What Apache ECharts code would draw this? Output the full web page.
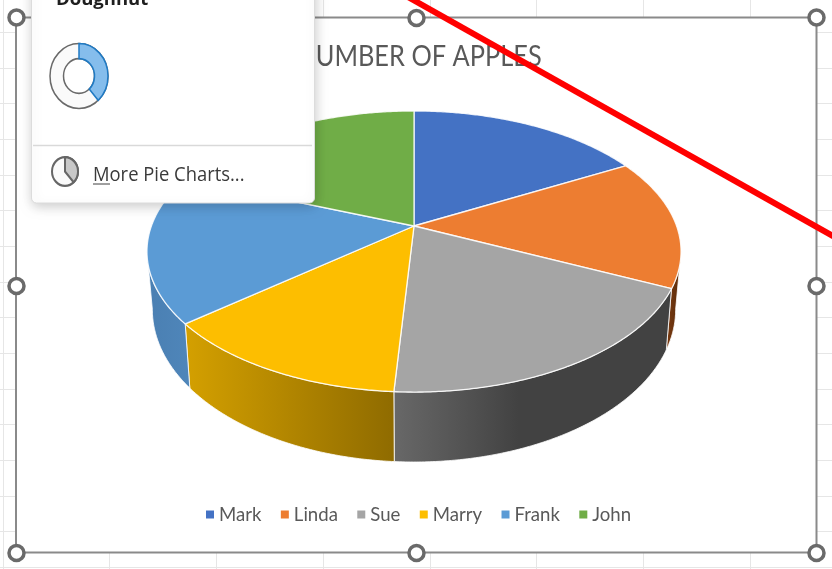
<!DOCTYPE html>
<html><head><meta charset="utf-8">
<style>html,body{margin:0;padding:0;background:#fff}#c{width:832px;height:569px}</style>
<script src="https://cdn.jsdelivr.net/npm/echarts@6/dist/echarts.min.js"></script>
</head><body><div id="c"></div>
<script>
const chartTitle = 'NUMBER OF APPLES';
const names = ['Mark','Linda','Sue','Marry','Frank','John'];
const apples = [17,15,19,13,17,19];
const topColors = ['#4472c4','#ed7d31','#a5a5a5','#fdbe00','#5b9bd5','#70ad47'];
const wallColors = [
  ['#2f5597','#2f5597'],['#7a3a10','#5a2c0c'],['#686868','#424242'],
  ['#d4a000','#8f6b00'],['#4a7fb2','#4f86ba'],['#4a7a30','#4a7a30']
];

const total = apples.reduce((a,b)=>a+b,0);
const D2R = Math.PI/180;
const K = 0.1815;
const TOP = {cx:414, cy:226, a:262.6, b:135.9};
const BOT = {cx:414, cy:281.8, a:257.3, b:147.5};
const FRONT = [100.4, 259.6];
function rim(r, deg){
  const s=Math.sin(deg*D2R), c=Math.cos(deg*D2R), w=1+K*c;
  return [r.cx+r.a*s/w, r.cy-r.b*c/w];
}
function arc(r, from, to){
  const pts=[], n=Math.max(2,Math.ceil((to-from)*2));
  for(let i=0;i<=n;i++) pts.push(rim(r, from+(to-from)*i/n));
  return pts;
}
function sliceItem(idx){
  return function(params, api){
    let before=0; for(let i=0;i<idx;i++) before+=apples[i];
    const start=before/total*360, end=(before+api.value(0))/total*360;
    const children=[];
    const a=Math.max(start,FRONT[0]), b=Math.min(end,FRONT[1]);
    if(b>a){
      const up=arc(TOP,a,b), low=arc(BOT,a,b).reverse();
      const xs=up.concat(low).map(p=>p[0]);
      let x0=Math.min(...xs), x1=Math.max(...xs);
      if(idx===2) x1=x0+(x1-x0)*0.45;
      children.push({type:'polygon',shape:{points:up.concat(low)},
        style:{fill:new echarts.graphic.LinearGradient(x0,0,x1,0,[
          {offset:0,color:wallColors[idx][0]},{offset:1,color:wallColors[idx][1]}],true),
          stroke:'rgba(255,255,255,0.8)',lineWidth:1}});
    }
    children.push({type:'polygon',shape:{points:[[TOP.cx,TOP.cy]].concat(arc(TOP,start,end))},
      style:{fill:topColors[idx],stroke:'rgba(255,255,255,0.85)',lineWidth:1.3,lineJoin:'round'}});
    return {type:'group',children};
  };
}

const G=[];
// worksheet grid
const gridColor='#e6e6e6';
function gl(x1,y1,x2,y2){G.push({type:'line',z:-1,silent:true,shape:{x1,y1,x2,y2},style:{stroke:gridColor,lineWidth:1}});}
for(let i=0;i<16;i++){
  const y=Math.round(32+35.67*i)+0.5;
  gl(0,y,16,y); gl(816,y,832,y);
}
gl(0,567.5,832,567.5);
for(let i=0;i<8;i++){
  const x=Math.round(2.7+106.7*i)+0.5;
  gl(x,0,x,17); gl(x,553,x,569);
}
gl(3.5,0,3.5,569);
// frame
G.push({type:'rect',z:1,silent:true,shape:{x:16,y:17.5,width:800.5,height:535},style:{fill:'transparent',stroke:'#8a8a8a',lineWidth:2}});
[[16.5,17.5],[416.5,18],[816.5,17.5],[16.5,286],[816.5,286],[16.5,553],[416.5,553],[816.5,553]].forEach(p=>{
  G.push({type:'circle',z:50,silent:true,shape:{cx:p[0],cy:p[1],r:7.5},style:{fill:'#fff',stroke:'#6a6a6a',lineWidth:3.5}});
});
// chart title (Calibri-like proportions: narrow Lato)
G.push({type:'group',z:6,silent:true,x:419,y:42,scaleX:0.875,children:[
  {type:'text',z:6,style:{x:0,y:0,text:chartTitle,align:'center',font:'400 29px Lato',fill:'#595959'}}
]});
// popup
G.push({type:'rect',z:100,silent:true,shape:{x:31.5,y:-20,width:283,height:223,r:5},
  style:{fill:'#fff',stroke:'#dcdcdc',lineWidth:1,shadowBlur:12,shadowColor:'rgba(0,0,0,0.2)',shadowOffsetY:3,shadowOffsetX:1}});
G.push({type:'line',z:101,silent:true,shape:{x1:33,y1:145.5,x2:312,y2:145.5},style:{stroke:'#d9d9d9',lineWidth:1.5}});
G.push({type:'text',z:101,silent:true,style:{x:56,y:-10,text:'Doughnut',font:'700 18.5px "Open Sans"',fill:'#1f1f1f'}});
G.push({type:'group',z:101,silent:true,x:79,y:76,scaleY:1.12,children:[
  {type:'sector',z:101,shape:{cx:0,cy:0,r:29,r0:15.5,startAngle:-Math.PI/2,endAngle:Math.PI*3/2},style:{fill:'#fafafa',stroke:'#6a6a6a',lineWidth:1.5}},
  {type:'sector',z:102,shape:{cx:0,cy:0,r:29,r0:15.5,startAngle:-Math.PI/2,endAngle:Math.PI*0.27},style:{fill:'#85bdec',stroke:'#1f7ac4',lineWidth:1.5}}
]});
G.push({type:'group',z:101,silent:true,x:65,y:171.5,scaleY:1.1,children:[
  {type:'circle',z:101,shape:{cx:0,cy:0,r:13},style:{fill:'#fafafa',stroke:'#666',lineWidth:2}},
  {type:'sector',z:102,shape:{cx:0,cy:0,r:13,r0:0,startAngle:-Math.PI/2,endAngle:Math.PI*0.27},style:{fill:'#c8c8c8',stroke:'#666',lineWidth:2}}
]});
G.push({type:'group',z:101,silent:true,x:93,y:165,scaleX:0.92,children:[
  {type:'text',z:101,style:{x:0,y:0,text:'More Pie Charts...',font:'400 20px "Open Sans"',fill:'#3a3a3a'}}
]});
G.push({type:'line',z:101,silent:true,shape:{x1:93,y1:184,x2:110,y2:184},style:{stroke:'#404040',lineWidth:1}});
// annotation line
G.push({type:'line',z:200,silent:true,shape:{x1:408,y1:-3,x2:840,y2:240},style:{stroke:'#ff0000',lineWidth:6}});

const option={
  animation:false,
  backgroundColor:'#ffffff',
  legend:{data:names,left:206,top:505,padding:0,icon:'rect',itemWidth:8,itemHeight:8,itemGap:19.4,selectedMode:false,
    textStyle:{fontFamily:'Lato',fontSize:18.6,color:'#595959'}},
  graphic:{elements:G},
  series:names.map((n,i)=>({
    type:'custom',name:n,coordinateSystem:'none',silent:true,
    itemStyle:{color:topColors[i]},
    renderItem:sliceItem(i),
    data:[apples[i]]
  }))
};
echarts.init(document.getElementById('c'),null,{renderer:'canvas'}).setOption(option);
</script></body></html>
